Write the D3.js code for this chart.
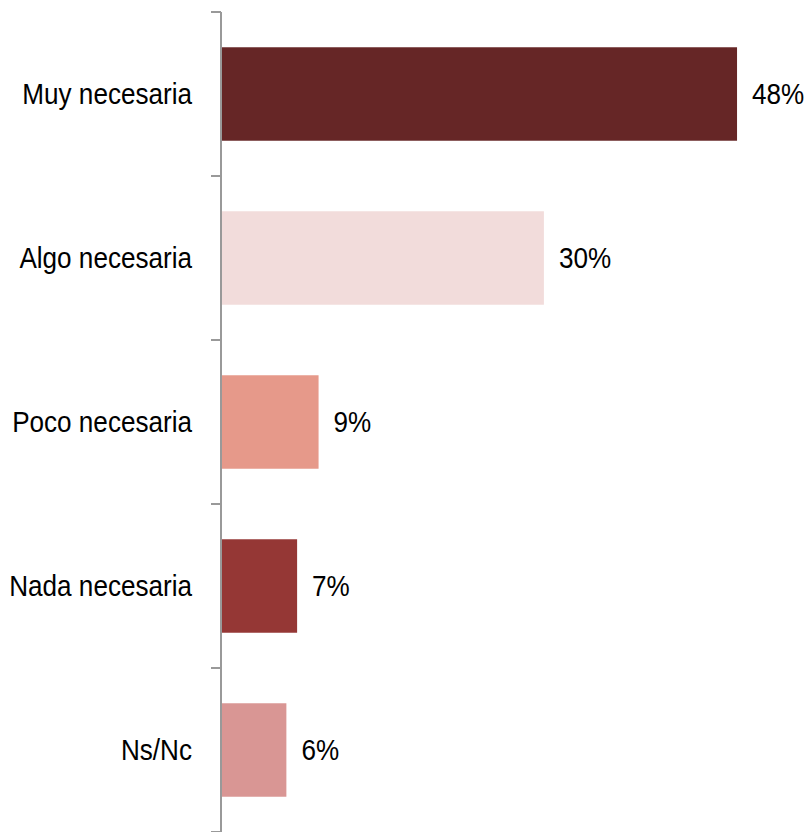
<!DOCTYPE html>
<html>
<head>
<meta charset="utf-8">
<script src="https://cdn.jsdelivr.net/npm/d3@7"></script>
<style>
  body { margin: 0; background: #fff; }
  text { font-family: "Liberation Sans Narrow", "Arial Narrow", "Liberation Sans", sans-serif; }
</style>
</head>
<body>
<script>
// Data
let categories = ["Muy necesaria", "Algo necesaria", "Poco necesaria", "Nada necesaria", "Ns/Nc"];
let values = [48, 30, 9, 7, 6];
let colors = ["#662626", "#f2dcdb", "#e6998a", "#953735", "#d99694"];

let w = 807, h = 832;
let narrow = 0.9; // squeeze text horizontally, like a narrow font

let svg = d3.select("body").append("svg")
            .attr("width", w)
            .attr("height", h);

// Scales
let x = d3.scaleLinear().domain([0, 50]).range([222, 758.5]);
let y = d3.scaleBand().domain(categories).range([12, 832]).paddingInner(0.43).paddingOuter(0.215);

// Bars
svg.selectAll("rect.bar")
    .data(categories)
    .enter()
    .append("rect")
    .attr("class", "bar")
    .attr("x", x(0))
    .attr("y", d => y(d))
    .attr("width", (d, i) => x(values[i]) - x(0))
    .attr("height", y.bandwidth())
    .attr("fill", (d, i) => colors[i]);

// Value labels
svg.selectAll("text.val")
    .data(categories)
    .enter()
    .append("text")
    .attr("class", "val")
    .attr("transform", (d, i) => `translate(${x(values[i]) + 15},${y(d) + y.bandwidth() / 2}) scale(${narrow},1)`)
    .attr("dy", "0.36em")
    .attr("font-size", 29)
    .attr("fill", "#000")
    .text((d, i) => values[i] + "%");

// Y axis: vertical line + ticks between categories
let axis = svg.append("g");
axis.append("line")
    .attr("x1", 221).attr("x2", 221)
    .attr("y1", 12).attr("y2", h)
    .attr("stroke", "#999").attr("stroke-width", 2);

let tickYs = d3.range(categories.length + 1).map(i => 12 + i * (832 - 12) / categories.length);
axis.selectAll("line.tick")
    .data(tickYs)
    .enter()
    .append("line")
    .attr("class", "tick")
    .attr("x1", 211).attr("x2", 221)
    .attr("y1", d => d).attr("y2", d => d)
    .attr("stroke", "#999").attr("stroke-width", 2);

// Category labels
axis.selectAll("text.cat")
    .data(categories)
    .enter()
    .append("text")
    .attr("class", "cat")
    .attr("transform", d => `translate(192,${y(d) + y.bandwidth() / 2}) scale(${narrow},1)`)
    .attr("dy", "0.36em")
    .attr("text-anchor", "end")
    .attr("font-size", 29)
    .attr("fill", "#000")
    .text(d => d);
</script>
</body>
</html>
